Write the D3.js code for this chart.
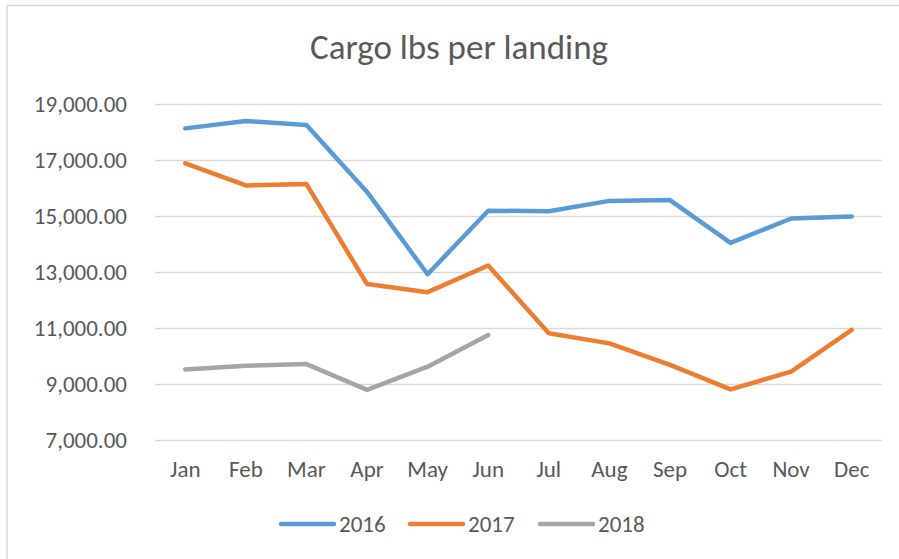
<!DOCTYPE html>
<html><head><meta charset="utf-8">
<script src="https://cdn.jsdelivr.net/npm/d3@7"></script>
<style>body{margin:0;background:#fff}svg{display:block}text{font-family:Carlito,Calibri,Lato,sans-serif;fill:#595959}</style>
</head><body><svg id="c" width="899" height="559"></svg>
<script>
const months = ["Jan","Feb","Mar","Apr","May","Jun","Jul","Aug","Sep","Oct","Nov","Dec"];
const s2016 = [18130,18390,18250,15860,12920,15190,15170,15540,15570,14040,14910,14980];
const s2017 = [16880,16090,16140,12570,12280,13230,10810,10450,9680,8810,9440,10930];
const s2018 = [9520,9650,9710,8790,9620,10750];
const yTicks = [7000,9000,11000,13000,15000,17000,19000];
const seriesNames = ["2016","2017","2018"];
const colors = ["#5B9BD5","#ED7D31","#A5A5A5"];

const svg = d3.select("#c");
svg.append("rect").attr("x",7).attr("y",5.5).attr("width",920).attr("height",600)
  .attr("fill","none").attr("stroke","#d9d9d9").attr("stroke-width",1.5);

const x = d3.scaleBand().domain(months).range([155,882]);
const y = d3.scaleLinear().domain([7000,19000]).range([440,104]);

const fs = "23px";
const gy = svg.append("g").attr("transform","translate(155,0)")
  .call(d3.axisLeft(y).tickValues(yTicks).tickSize(-727).tickFormat(d3.format(",.2f")).tickPadding(28));
gy.select(".domain").remove();
gy.selectAll("line").attr("stroke","#d9d9d9").attr("stroke-width",1.5);
gy.selectAll("text").style("font-size",fs).style("fill","#595959").attr("font-family","Carlito,Calibri,Lato,sans-serif");

const gx = svg.append("g").attr("transform","translate(0,440)")
  .call(d3.axisBottom(x).tickSize(0).tickPadding(21));
gx.select(".domain").remove();
gx.selectAll("text").style("font-size",fs).style("fill","#595959").attr("font-family","Carlito,Calibri,Lato,sans-serif");

const line = d3.line().x((d,i)=>x(months[i])+x.bandwidth()/2).y(d=>y(d));
[s2016,s2017,s2018].forEach((s,k)=>{
  svg.append("path").datum(s).attr("d",line).attr("fill","none")
    .attr("stroke",colors[k]).attr("stroke-width",4.5).attr("stroke-linejoin","round").attr("stroke-linecap","round");
});

svg.append("text").attr("x",459).attr("y",59).attr("text-anchor","middle")
  .style("font-size","35px").text("Cargo lbs per landing");

const legX = [281,410,540];
seriesNames.forEach((n,k)=>{
  const g = svg.append("g").attr("transform",`translate(${legX[k]},524)`);
  g.append("line").attr("x1",0).attr("x2",53).attr("stroke",colors[k]).attr("stroke-width",4.5).attr("stroke-linecap","round");
  g.append("text").attr("x",58).attr("y",8).style("font-size",fs).text(n);
});
</script></body></html>
